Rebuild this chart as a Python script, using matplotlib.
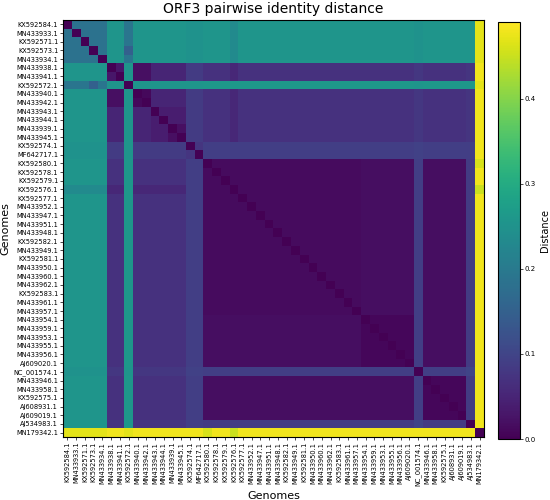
import numpy as np
import matplotlib
matplotlib.use("Agg")
import matplotlib.pyplot as plt

# ─── Genomes in the order shown on both axes ─────
genomes = [
    "KX592584.1", "MN433933.1", "KX592571.1", "KX592573.1", "MN433934.1",
    "MN433938.1", "MN433941.1", "KX592572.1", "MN433940.1", "MN433942.1",
    "MN433943.1", "MN433944.1", "MN433939.1", "MN433945.1", "KX592574.1",
    "MF642717.1", "KX592580.1", "KX592578.1", "KX592579.1", "KX592576.1",
    "KX592577.1", "MN433952.1", "MN433947.1", "MN433951.1", "MN433948.1",
    "KX592582.1", "MN433949.1", "KX592581.1", "MN433950.1", "MN433960.1",
    "MN433962.1", "KX592583.1", "MN433961.1", "MN433957.1", "MN433954.1",
    "MN433959.1", "MN433953.1", "MN433955.1", "MN433956.1", "AJ609020.1",
    "NC_001574.1", "MN433946.1", "MN433958.1", "KX592575.1", "AJ608931.1",
    "AJ609019.1", "AJ534983.1", "MN179342.1",
]

# cluster of each genome
clusters = (["A"] * 5 + ["B1"] * 2 + ["S"] + ["B2"] * 2 + ["B3"] * 4 + ["D"] * 2
            + ["C1"] * 18 + ["C2"] * 6 + ["N"] + ["C3"] * 5 + ["J"] + ["M"])

# distances between clusters (estimated from the colours)
family_dist = {
    ("A", "A"): 0.185, ("A", "S"): 0.19, ("A", "B"): 0.255, ("A", "D"): 0.25,
    ("A", "C"): 0.255, ("A", "N"): 0.25, ("A", "J"): 0.255, ("A", "M"): 0.47,
    ("S", "B"): 0.255, ("S", "D"): 0.255, ("S", "C"): 0.26, ("S", "N"): 0.255,
    ("S", "J"): 0.26, ("S", "M"): 0.47,
    ("B", "D"): 0.085, ("B", "C"): 0.07, ("B", "N"): 0.08, ("B", "J"): 0.075,
    ("B", "M"): 0.48,
    ("D", "D"): 0.075, ("D", "C"): 0.09, ("D", "N"): 0.095, ("D", "J"): 0.09,
    ("D", "M"): 0.48,
    ("C", "N"): 0.09, ("C", "J"): 0.085, ("C", "M"): 0.48,
    ("N", "J"): 0.10, ("N", "M"): 0.48,
    ("J", "M"): 0.48,
}
# finer values inside the two big families
sub_dist = {
    ("B1", "B1"): 0.03, ("B2", "B2"): 0.01, ("B3", "B3"): 0.04,
    ("B1", "B2"): 0.02, ("B1", "B3"): 0.05, ("B2", "B3"): 0.05,
    ("C1", "C1"): 0.015, ("C2", "C2"): 0.008, ("C3", "C3"): 0.008,
    ("C1", "C2"): 0.018, ("C1", "C3"): 0.018, ("C2", "C3"): 0.018,
}
# single genomes that stand out from their cluster
genome_dist = {
    ("KX592576.1", "A"): 0.235, ("KX592576.1", "B"): 0.055,
    ("KX592576.1", "M"): 0.45, ("KX592580.1", "M"): 0.46,
    ("KX592572.1", "KX592573.1"): 0.15,
    ("MN433939.1", "MN433945.1"): 0.02,
}

n = len(genomes)
dist = np.zeros((n, n))
for i in range(n):
    for j in range(n):
        if i == j:
            continue
        gi, gj = genomes[i], genomes[j]
        ci, cj = clusters[i], clusters[j]
        fi, fj = ci[0], cj[0]
        if (gi, gj) in genome_dist or (gj, gi) in genome_dist:
            d = genome_dist.get((gi, gj), genome_dist.get((gj, gi)))
        elif (gi, fj) in genome_dist:
            d = genome_dist[(gi, fj)]
        elif (gj, fi) in genome_dist:
            d = genome_dist[(gj, fi)]
        elif fi == fj and (ci, cj) in sub_dist:
            d = sub_dist[(ci, cj)]
        elif fi == fj and (cj, ci) in sub_dist:
            d = sub_dist[(cj, ci)]
        else:
            d = family_dist.get((fi, fj), family_dist.get((fj, fi)))
        dist[i, j] = d

# ─── Plot ────────────────────────────────────────
fig = plt.figure(figsize=(5.5, 5), dpi=100)
ax = fig.add_axes([63 / 550, 1 - 437 / 500, 421 / 550, 417 / 500])
cax = fig.add_axes([498 / 550, 1 - 439 / 500, 22 / 550, 417 / 500])

im = ax.imshow(dist, cmap="viridis", vmin=0, vmax=0.49,
               aspect="auto", interpolation="nearest")

ax.set_xticks(range(n))
ax.set_yticks(range(n))
ax.set_xticklabels(genomes, rotation=90, fontsize=4.8)
ax.set_yticklabels(genomes, fontsize=4.8)
ax.tick_params(length=2, width=0.5, pad=1.5)
ax.set_xlabel("Genomes", fontsize=8, labelpad=3)
ax.set_ylabel("Genomes", fontsize=8, labelpad=2)
ax.set_title("ORF3 pairwise identity distance", fontsize=10, pad=5)

cb = fig.colorbar(im, cax=cax)
cb.set_ticks([0.0, 0.1, 0.2, 0.3, 0.4])
cb.ax.tick_params(labelsize=5, length=2, width=0.5, pad=1.5)
cb.set_label("Distance", fontsize=7, labelpad=3)

fig.savefig("out.png", dpi=100)
